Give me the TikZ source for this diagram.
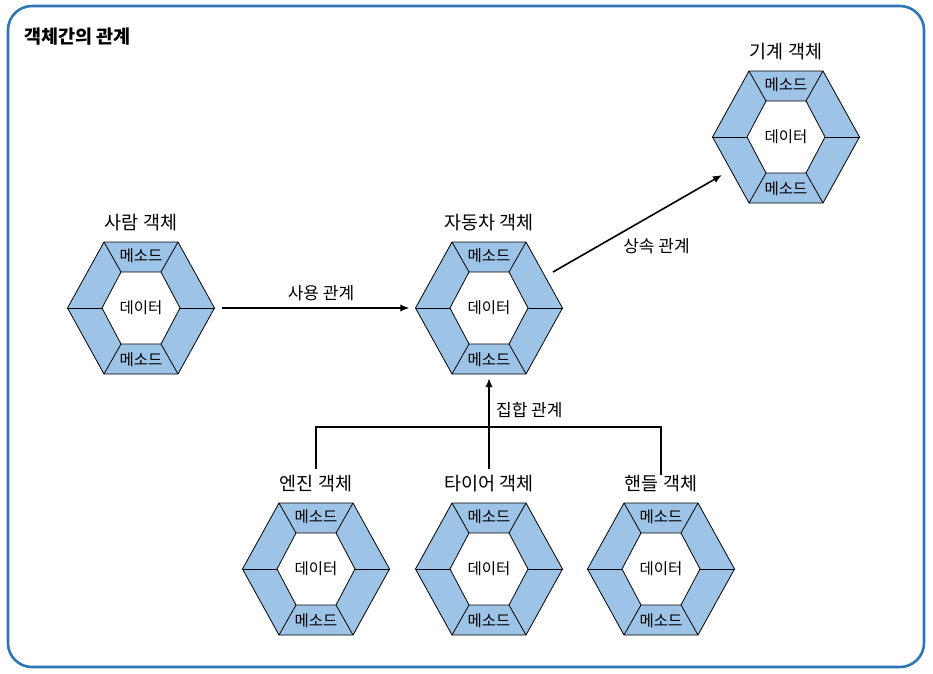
\documentclass[tikz,border=0pt]{standalone}
\usepackage{fontspec}
\setmainfont{Noto Sans CJK KR}
\usetikzlibrary{arrows.meta}
\definecolor{hexblue}{RGB}{157,195,230}
\definecolor{frameblue}{RGB}{46,117,182}
\newcommand{\objhex}[4]{%
  \begin{scope}[shift={(#2,#3)}]
    \path (-73.5,0) coordinate (#1-o1) (-37,-66) coordinate (#1-o2) (37,-66) coordinate (#1-o3)
          (73.5,0) coordinate (#1-o4) (37,66) coordinate (#1-o5) (-37,66) coordinate (#1-o6);
    \path (-39,0) coordinate (#1-i1) (-20,-36) coordinate (#1-i2) (20,-36) coordinate (#1-i3)
          (39,0) coordinate (#1-i4) (20,36) coordinate (#1-i5) (-20,36) coordinate (#1-i6);
    \draw[hexline,fill=hexblue] (#1-o1) -- (#1-o2) -- (#1-o3) -- (#1-o4) -- (#1-o5) -- (#1-o6) -- cycle;
    \draw[hexline,fill=white] (#1-i1) -- (#1-i2) -- (#1-i3) -- (#1-i4) -- (#1-i5) -- (#1-i6) -- cycle;
    \foreach \k in {1,...,6} \draw[hexline] (#1-o\k) -- (#1-i\k);
    \node[hexbox] (#1) at (0,0) {데이터};
    \node[methodtext] (#1-m1) at (0,-52) {메소드};
    \node[methodtext] (#1-m2) at (0,52) {메소드};
    \node[objlabel] (#1-t) at (0,-84) {#4};
  \end{scope}}

\begin{document}
\begin{tikzpicture}[x=1pt,y=-1pt,
    hexline/.style={line width=0.8pt,black},
    hexbox/.style={minimum width=147pt,minimum height=132pt,inner sep=0pt,font=\fontsize{15.5}{17}\selectfont},
    methodtext/.style={inner sep=0pt,font=\fontsize{15.5}{17}\selectfont},
    objlabel/.style={inner sep=2pt,text height=13pt,text depth=3pt,font=\fontsize{18.5}{20}\selectfont},
    conn/.style={line width=1.6pt,black},
    arr/.style={conn,-{Latex[length=9pt,width=7.5pt]}},
    lbl/.style={font=\fontsize{17}{19}\selectfont}]
		\useasboundingbox (0,0) rectangle (933,673);
		\draw[frameblue,line width=2.6pt,rounded corners=24pt] (8,6) rectangle (924,667);
		\node[anchor=west,font=\bfseries\fontsize{18.5}{20}\selectfont] (title) at (21,37) {객체간의 관계};
		\objhex{person}{141}{308}{사람 객체}
		\objhex{car}{489}{308}{자동차 객체}
		\objhex{machine}{786}{137}{기계 객체}
		\objhex{engine}{316}{569}{엔진 객체}
		\objhex{tire}{489}{569}{타이어 객체}
		\objhex{handle}{661}{569}{핸들 객체}
		\draw[arr,shorten <=7pt,shorten >=6pt] (person) -- node[lbl,above=3pt,xshift=6pt] (uselbl) {사용 관계} (car);
		\draw[arr] ([shift={(64,-36)}]car.center) -- node[lbl,anchor=north,xshift=19pt,yshift=-11pt] (inhlbl) {상속 관계} ([shift={(-64,38)}]machine.center);
		\coordinate (join) at (489,427);
		\draw[conn,shorten <=6pt] (engine-t.north) |- (join) -| (handle-t.north);
		\draw[arr,shorten <=6pt,shorten >=4pt] (tire-t.north) -- node[lbl,pos=.64,anchor=west,xshift=3pt] (agglbl) {집합 관계} (car.south);
	\end{tikzpicture}
\end{document}
